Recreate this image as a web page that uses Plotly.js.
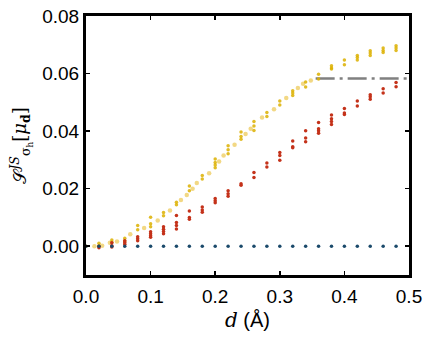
<!DOCTYPE html>
<html>
<head>
<meta charset="utf-8">
<script src="https://cdn.plot.ly/plotly-3.0.1.min.js"></script>
<style>html,body{margin:0;padding:0;background:#fff;}#chart{width:432px;height:341px;}</style>
</head>
<body>
<div id="chart"></div>
<script>
// Blue series (flat at zero)
const blueX = [0,0.02,0.04,0.06,0.08,0.10,0.12,0.14,0.16,0.18,0.20,0.22,0.24,0.26,0.28,0.30,0.32,0.34,0.36,0.38,0.40,0.42,0.44,0.46,0.48];
const blueY = [0,0,0,0,0,0,0,0,0,0,0,0,0,0,0,0,0,0,0,0,0,0,0,0,0];

// Red series (several runs per d)
const redX = [0.02,0.02, 0.04,0.04,0.04, 0.06,0.06,0.06, 0.08,0.08,0.08, 0.10,0.10,0.10,0.10, 0.12,0.12,0.12,0.12, 0.14,0.14,0.14,0.14, 0.16,0.16,0.16, 0.18,0.18,0.18, 0.20,0.20,0.20, 0.22,0.22,0.22, 0.24,0.24, 0.26,0.26, 0.28,0.28, 0.30,0.30,0.30, 0.32,0.32,0.32, 0.34,0.34,0.34, 0.36,0.36,0.36,0.36, 0.38,0.38,0.38,0.38, 0.40,0.40,0.40, 0.42,0.42, 0.44,0.44,0.44, 0.46,0.46, 0.48,0.48];
const redY = [0.0,-0.0005, 0.0012,0.0002,-0.0003, 0.0019,0.0013,0.0007, 0.0033,0.0026,0.0019, 0.0050,0.0043,0.0036,0.0031, 0.0068,0.0059,0.0051,0.0043, 0.0107,0.0082,0.0072,0.0060, 0.0122,0.0100,0.0094, 0.0136,0.0126,0.0118, 0.0166,0.0158,0.0151, 0.0193,0.0182,0.0174, 0.0217,0.0212, 0.0256,0.0239, 0.0289,0.0275, 0.0326,0.0315,0.0299, 0.0366,0.0346,0.0342, 0.0401,0.0376,0.0363, 0.0430,0.0408,0.0401,0.0393, 0.0456,0.0443,0.0433,0.0423, 0.0479,0.0463,0.0458, 0.0505,0.0487, 0.0526,0.0519,0.0511, 0.0547,0.0532, 0.0569,0.0554];

// Gold series (several runs per d)
const goldX = [0.0, 0.02,0.02, 0.04,0.04, 0.06,0.06, 0.08,0.08, 0.10,0.10,0.10, 0.12,0.12, 0.14,0.14, 0.16,0.16, 0.18,0.18, 0.20,0.20,0.20,0.20, 0.22,0.22,0.22, 0.24,0.24,0.24, 0.26,0.26,0.26, 0.28,0.28, 0.30,0.30, 0.32,0.32,0.32, 0.34,0.34, 0.36,0.36, 0.38,0.38,0.38, 0.40,0.40, 0.42,0.42,0.42, 0.44,0.44,0.44, 0.46,0.46,0.46, 0.48,0.48,0.48];
const goldY = [0.0, 0.0010,0.0001, 0.0022,0.0014, 0.0028,0.0018, 0.0072,0.0057, 0.0101,0.0078,0.0068, 0.0117,0.0106, 0.0153,0.0144, 0.0209,0.0193, 0.0246,0.0234, 0.0303,0.0291,0.0282,0.0273, 0.0349,0.0335,0.0321, 0.0397,0.0381,0.0372, 0.0433,0.0418,0.0402, 0.0465,0.0451, 0.0505,0.0491, 0.0540,0.0532,0.0524, 0.0571,0.0553, 0.0598,0.0581, 0.0627,0.0619,0.0616, 0.0647,0.0631, 0.0663,0.0656,0.0647, 0.0679,0.0671,0.0663, 0.0689,0.0680,0.0673, 0.0697,0.0689,0.0680];

// Light yellow series (intermediate d values)
const lightX = [0.013,0.025,0.037,0.048,0.0685,0.090,0.111,0.130,0.147,0.156,0.165,0.1715,0.1906,0.206,0.213,0.230,0.247,0.255,0.2725,0.291,0.31,0.328,0.336,0.348];
const lightY = [0.0,0.0002,0.0012,0.0016,0.0042,0.0063,0.0089,0.0124,0.0161,0.0178,0.0200,0.0220,0.0254,0.0294,0.0315,0.0353,0.0390,0.0408,0.0447,0.0476,0.0515,0.0550,0.0565,0.0576];

// Plateau reference line
const refX = [0.3555, 0.5];
const refY = [0.0583, 0.0583];

const xTickVals = [0,0.1,0.2,0.3,0.4,0.5];
const xTickText = ['0.0','0.1','0.2','0.3','0.4','0.5'];
const yTickVals = [0,0.02,0.04,0.06,0.08];
const yTickText = ['0.00','0.02','0.04','0.06','0.08'];

const traces = [
  {x: refX, y: refY, mode: 'lines', line: {color: '#808080', width: 2.6, dash: '19px,5px,3px,5px'}, hoverinfo: 'skip'},
  {x: lightX, y: lightY, mode: 'markers', marker: {color: '#ecc850', size: 4.5, opacity: 0.7}},
  {x: goldX, y: goldY, mode: 'markers', marker: {color: '#dcb000', size: 3.5, opacity: 0.85}},
  {x: redX, y: redY, mode: 'markers', marker: {color: '#c4321a', size: 3.5}},
  {x: blueX, y: blueY, mode: 'markers', marker: {color: '#1b4a6b', size: 3.5}}
];

const axisCommon = {
  showgrid: false, zeroline: false, showline: true, linecolor: '#000', linewidth: 3,
  mirror: 'allticks', ticks: 'inside', ticklen: 4, tickwidth: 1.5, tickcolor: '#000',
  tickfont: {family: 'Liberation Sans, Arial, sans-serif', size: 19, color: '#000'}
};

const layout = {
  width: 432, height: 341,
  margin: {l: 86, r: 23, t: 16, b: 66},
  showlegend: false,
  paper_bgcolor: '#fff', plot_bgcolor: '#fff',
  xaxis: Object.assign({}, axisCommon, {
    range: [0, 0.5], tickvals: xTickVals, ticktext: xTickText, ticklabelstandoff: 2,
    title: {text: '<span style="font-family:DejaVu Serif;font-style:italic">d</span> (Å)', font: {family: 'Liberation Sans, Arial, sans-serif', size: 20, color: '#000'}, standoff: 8}
  }),
  yaxis: Object.assign({}, axisCommon, {
    range: [-0.01, 0.08], tickvals: yTickVals, ticktext: yTickText,
    title: {text: '<span style="font-family:DejaVu Serif">𝒮</span><sup><i>JS</i></sup><sub>σ<sub>h</sub></sub>[<i>μ</i><sub><b>d</b></sub>]', font: {family: 'DejaVu Serif, serif', size: 18, color: '#000'}, standoff: 11}
  })
};

Plotly.newPlot('chart', traces, layout, {displayModeBar: false, staticPlot: true});
</script>
</body>
</html>
